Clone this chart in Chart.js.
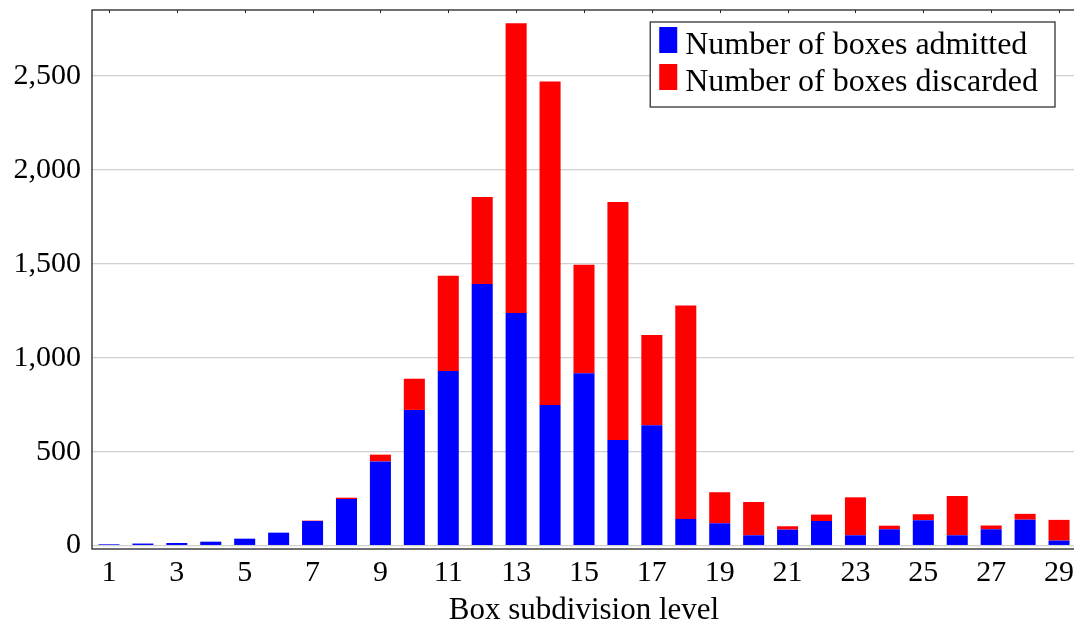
<!DOCTYPE html>
<html>
<head>
<meta charset="utf-8">
<title>Box subdivision levels</title>
<script src="https://cdn.jsdelivr.net/npm/chart.js@4/dist/chart.umd.min.js"></script>
<style>
    html, body { margin: 0; padding: 0; background: #ffffff; overflow: hidden; }
    #wrap { width: 1078px; height: 623px; }
</style>
</head>
<body>
<div id="wrap"><canvas id="chart"></canvas></div>
<script>
// Box subdivision levels (x categories)
const levels = ['1', '2', '3', '4', '5', '6', '7', '8', '9', '10',
    '11', '12', '13', '14', '15', '16', '17', '18', '19', '20',
    '21', '22', '23', '24', '25', '26', '27', '28', '29'];

// Boxes admitted per level
const admitted = [7, 11, 14, 21, 37, 69, 131, 248, 448, 722,
    929, 1392, 1238, 748, 917, 562, 640, 142, 119, 55,
    85, 131, 55, 87, 135, 55, 87, 138, 27];

// Boxes discarded per level (stacked on top)
const discarded = [0, 0, 0, 0, 0, 0, 2, 7, 36, 166,
    507, 463, 1542, 1722, 578, 1266, 481, 1135, 165, 177,
    18, 34, 202, 19, 32, 209, 20, 31, 110];

// Y axis tick values
const yTicks = [0, 500, 1000, 1500, 2000, 2500];

const FONT = '"Liberation Serif", "Times New Roman", serif';

// Frame around the plot area with small inward ticks
const frame = {
    id: 'frame',
    afterDatasetsDraw(chart) {
        const { ctx, chartArea } = chart;
        const x = chart.scales.x;
        ctx.save();
        ctx.strokeStyle = '#222222';
        ctx.lineWidth = 1.3;
        ctx.strokeRect(chartArea.left, chartArea.top, chartArea.right - chartArea.left, chartArea.bottom - chartArea.top);
        ctx.lineWidth = 1;
        levels.forEach((l, i) => {
            if (i % 2 !== 0) return;
            const px = Math.round(x.getPixelForValue(i)) + 0.5;
            ctx.beginPath();
            ctx.moveTo(px, chartArea.top);
            ctx.lineTo(px, chartArea.top + 3);
            ctx.stroke();
        });
        ctx.restore();
    }
};

// Legend box drawn inside the chart area, top right
const legendBox = {
    id: 'legendBox',
    afterDraw(chart) {
        const { ctx, chartArea } = chart;
        ctx.save();
        ctx.font = '32px ' + FONT;
        const labels = chart.data.datasets.map(d => d.label);
        const textW = Math.max(...labels.map(l => ctx.measureText(l).width));
        const w = 9 + 18 + 8 + textW + 17;
        const h = 85;
        const right = chartArea.right - 21;
        const top = chartArea.top + 12;
        const left = right - w;
        ctx.fillStyle = '#ffffff';
        ctx.fillRect(left, top, w, h);
        ctx.strokeStyle = '#333333';
        ctx.lineWidth = 1.3;
        ctx.strokeRect(left, top, w, h);
        chart.data.datasets.forEach((ds, i) => {
            ctx.fillStyle = ds.backgroundColor;
            ctx.fillRect(left + 9, top + 5 + i * 37, 18, 26);
            ctx.fillStyle = '#000000';
            ctx.textBaseline = 'alphabetic';
            ctx.textAlign = 'left';
            ctx.fillText(ds.label, left + 35, top + 32 + i * 37);
        });
        ctx.restore();
    }
};

new Chart(document.getElementById('chart'), {
    type: 'bar',
    data: {
        labels: levels,
        datasets: [{
            label: 'Number of boxes admitted',
            data: admitted,
            backgroundColor: '#0000ff',
            borderWidth: 0
        }, {
            label: 'Number of boxes discarded',
            data: discarded,
            backgroundColor: '#ff0000',
            borderWidth: 0
        }]
    },
    options: {
        responsive: true,
        maintainAspectRatio: false,
        animation: false,
        layout: {
            padding: { top: 10, right: 2, left: 0, bottom: 0 }
        },
        datasets: {
            bar: {
                barPercentage: 0.62,
                categoryPercentage: 1.0
            }
        },
        scales: {
            x: {
                stacked: true,
                offset: true,
                grid: { display: false, drawTicks: false },
                border: { display: false },
                ticks: {
                    autoSkip: false,
                    maxRotation: 0,
                    padding: 6,
                    color: '#000000',
                    font: { family: FONT, size: 30 },
                    callback: (v, i) => (i % 2 === 0 ? levels[i] : '')
                },
                title: {
                    display: true,
                    text: 'Box subdivision level',
                    color: '#000000',
                    padding: { top: 0, bottom: 0 },
                    font: { family: FONT, size: 31, lineHeight: 0.8 }
                },
                afterFit: (scale) => {
                    scale.height = 74;
                    scale.paddingLeft = 0;
                    scale.paddingRight = 0;
                }
            },
            y: {
                stacked: true,
                min: -18,
                max: 2850,
                grid: {
                    color: '#d0d0d0',
                    lineWidth: 1.3,
                    drawTicks: false
                },
                border: { display: false },
                ticks: {
                    stepSize: 500,
                    padding: 11,
                    color: '#000000',
                    font: { family: FONT, size: 30 },
                    callback: (v) => v.toLocaleString('en-US')
                },
                afterBuildTicks: (scale) => {
                    scale.ticks = yTicks.map(v => ({ value: v }));
                },
                afterFit: (scale) => {
                    scale.width = 92;
                    scale.paddingTop = 0;
                    scale.paddingBottom = 0;
                }
            }
        },
        plugins: {
            legend: { display: false },
            tooltip: { enabled: false }
        }
    },
    plugins: [frame, legendBox]
});
</script>
</body>
</html>
